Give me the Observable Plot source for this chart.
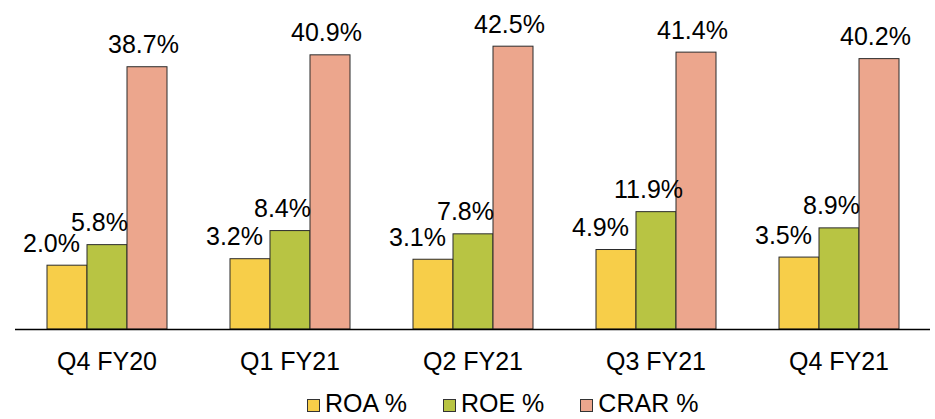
<!DOCTYPE html>
<html>
<head>
<meta charset="utf-8">
<script src="https://cdn.jsdelivr.net/npm/d3@7"></script>
<script src="https://cdn.jsdelivr.net/npm/@observablehq/plot@0.6"></script>
<style>
  body { margin: 0; background: #fff; font-family: "Liberation Sans", Arial, sans-serif; }
  #wrap { position: relative; width: 935px; height: 419px; overflow: hidden; }
  #legend { position: absolute; left: 307px; top: 391px; display: flex; align-items: center; font-size: 25px; line-height: 25px; color: #000; }
  .item { display: flex; align-items: center; margin-right: 36px; }
  .sw { width: 11px; height: 11px; border: 1px solid #333; margin-right: 5px; margin-top: 3px; }
</style>
</head>
<body>
<div id="wrap">
  <div id="chart"></div>
  <div id="legend"></div>
</div>
<script>
const quarters = ["Q4 FY20", "Q1 FY21", "Q2 FY21", "Q3 FY21", "Q4 FY21"];
const series = ["ROA %", "ROE %", "CRAR %"];
const roa = [2.0, 3.2, 3.1, 4.9, 3.5];
const roe = [5.8, 8.4, 7.8, 11.9, 8.9];
const crar = [38.7, 40.9, 42.5, 41.4, 40.2];
const colors = ["#F7CE49", "#B8C443", "#ECA68D"];
const labelDx = [-16, -8, -4];

const values = [roa, roe, crar];
const data = [];
quarters.forEach((q, i) => {
  series.forEach((s, j) => {
    data.push({quarter: q, series: s, value: values[j][i]});
  });
});
const base = -9.8;

const textMarks = series.map((s, j) => Plot.text(data.filter(d => d.series === s), {
  fx: "quarter", x: "series", y: "value",
  text: d => d.value.toFixed(1) + "%",
  lineAnchor: "bottom", dy: -14, dx: labelDx[j],
  fontSize: 25, fill: "#000"
}));

const chart = Plot.plot({
  width: 935,
  height: 382,
  marginLeft: 15,
  marginRight: 5,
  marginTop: 4,
  marginBottom: 53,
  style: {fontFamily: "'Liberation Sans', Arial, sans-serif", fontSize: "25px", color: "#000", background: "#fff"},
  fx: {domain: quarters, paddingInner: 0, paddingOuter: 0, axis: "bottom", tickSize: 0, tickPadding: 23, label: null},
  x: {domain: series, paddingInner: 0, paddingOuter: 0.765, axis: null},
  y: {domain: [base, 50.3], axis: null},
  color: {domain: series, range: colors},
  marks: [
    Plot.barY(data, {fx: "quarter", x: "series", y1: base, y2: "value", fill: "series", stroke: "#2b2b2b", strokeWidth: 1}),
    Plot.ruleY([base], {stroke: "#000", strokeWidth: 1.5}),
    ...textMarks
  ]
});
document.getElementById("chart").appendChild(chart);

const legend = document.getElementById("legend");
series.forEach((s, j) => {
  const item = document.createElement("div");
  item.className = "item";
  const sw = document.createElement("div");
  sw.className = "sw";
  sw.style.background = colors[j];
  const t = document.createElement("span");
  t.textContent = s;
  item.appendChild(sw);
  item.appendChild(t);
  legend.appendChild(item);
});
</script>
</body>
</html>
